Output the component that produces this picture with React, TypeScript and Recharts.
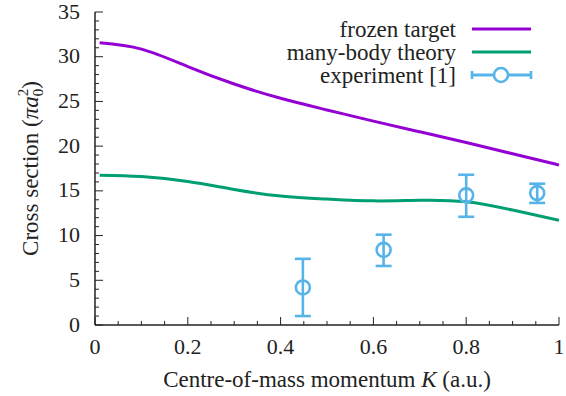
import { ComposedChart, Line, Scatter, ErrorBar, XAxis, YAxis, Label } from 'recharts';

// theory curves, sampled along K
const K = [0.01, 0.1, 0.2, 0.3, 0.4, 0.5, 0.6, 0.7, 0.8, 0.9, 1.0];
const frozenTarget = [31.55, 30.85, 28.9, 26.95, 25.35, 24.05, 22.8, 21.6, 20.4, 19.15, 17.9];
const manyBody = [16.75, 16.6, 16.05, 15.15, 14.42, 14.08, 13.88, 13.95, 13.78, 12.85, 11.7];

// experiment [1]
const expK = [0.448, 0.622, 0.8, 0.953];
const expValue = [4.2, 8.4, 14.5, 14.75];
const expLow = [1.0, 6.6, 12.1, 13.65];
const expHigh = [7.4, 10.1, 16.8, 15.8];

const xMajor = [0, 0.2, 0.4, 0.6, 0.8, 1];
const xLabels = ['0', '0.2', '0.4', '0.6', '0.8', '1'];
const yMajor = [0, 5, 10, 15, 20, 25, 30, 35];

const xTicks: number[] = [];
for (let i = 0; i <= 20; i++) xTicks.push(Math.round(i * 5) / 100);
const yTicks: number[] = [];
for (let i = 0; i <= 35; i++) yTicks.push(i);

const curves = K.map((k, i) => ({ k, frozen: frozenTarget[i], many: manyBody[i] }));
const points = expK.map((k, i) => ({
    k,
    v: expValue[i],
    err: [expValue[i] - expLow[i], expHigh[i] - expValue[i]],
}));

const INK = '#222';
const FONT = 'Liberation Serif';
const PURPLE = '#9400D3';
const GREEN = '#009E73';
const BLUE = '#56B4E9';

const isMajorX = (v: number) => xMajor.some((m) => Math.abs(m - v) < 1e-6);
const isMajorY = (v: number) => yMajor.includes(v);

const BottomTick = ({ x, y, payload }: any) => {
    const major = isMajorX(payload.value);
    const idx = xMajor.findIndex((m) => Math.abs(m - payload.value) < 1e-6);
    return (
        <g>
            <line x1={x} x2={x} y1={y} y2={y - (major ? 8 : 4)} stroke={INK} strokeWidth={1} />
            {major && (
                <text x={x} y={y + 29} textAnchor="middle" fontSize={22} fontFamily={FONT} fill={INK}>
                    {xLabels[idx]}
                </text>
            )}
        </g>
    );
};

const TopTick = ({ x, y, payload }: any) => {
    const major = isMajorX(payload.value);
    return <line x1={x} x2={x} y1={y} y2={y + (major ? 8 : 4)} stroke={INK} strokeWidth={1} />;
};

const LeftTick = ({ x, y, payload }: any) => {
    const major = isMajorY(payload.value);
    return (
        <g>
            <line x1={x} x2={x + (major ? 8 : 4)} y1={y} y2={y} stroke={INK} strokeWidth={1} />
            {major && (
                <text x={x - 15} y={y} dy="0.3em" textAnchor="end" fontSize={22} fontFamily={FONT} fill={INK}>
                    {payload.value}
                </text>
            )}
        </g>
    );
};

const RightTick = ({ x, y, payload }: any) => {
    const major = isMajorY(payload.value);
    return <line x1={x} x2={x - (major ? 8 : 4)} y1={y} y2={y} stroke={INK} strokeWidth={1} />;
};

const XTitle = ({ viewBox }: any) => {
    const cx = viewBox.x + viewBox.width / 2;
    return (
        <text x={cx} y={viewBox.y + 62} textAnchor="middle" fontSize={23} fontFamily={FONT} fill={INK}>
            Centre-of-mass momentum <tspan fontStyle="italic">K</tspan> (a.u.)
        </text>
    );
};

const YTitle = ({ viewBox }: any) => {
    const cx = viewBox.x + 37.5;
    const cy = viewBox.y + viewBox.height / 2;
    return (
        <text
            x={cx}
            y={cy}
            transform={`rotate(-90 ${cx} ${cy})`}
            textAnchor="middle"
            fontSize={23}
            fontFamily={FONT}
            fill={INK}
        >
            Cross section (<tspan fontStyle="italic">πa</tspan>
            <tspan fontSize={15} dy={5}>0</tspan>
            <tspan fontSize={15} dx={-7.5} dy={-15}>2</tspan>
            <tspan dy={10}>)</tspan>
        </text>
    );
};

const Dot = ({ cx, cy }: any) => (
    <circle cx={cx} cy={cy} r={7} fill="none" stroke={BLUE} strokeWidth={2.6} />
);

const ChartLegend = () => {
    const rows = [
        { label: 'frozen target', color: PURPLE, y: 29 },
        { label: 'many-body theory', color: GREEN, y: 52 },
        { label: 'experiment [1]', color: BLUE, y: 75 },
    ];
    return (
        <svg width={566} height={100} style={{ position: 'absolute', left: 0, top: 0 }}>
            {rows.map((r, i) => (
                <g key={r.label}>
                    <text x={456} y={r.y} dy="0.33em" textAnchor="end" fontSize={23} fontFamily={FONT} fill={INK}>
                        {r.label}
                    </text>
                    <line x1={472} x2={531} y1={r.y} y2={r.y} stroke={r.color} strokeWidth={3} />
                    {i === 2 && (
                        <g>
                            <line x1={472} x2={472} y1={r.y - 4} y2={r.y + 4} stroke={BLUE} strokeWidth={2.6} />
                            <line x1={531} x2={531} y1={r.y - 4} y2={r.y + 4} stroke={BLUE} strokeWidth={2.6} />
                            <circle cx={501} cy={r.y} r={7} fill="white" stroke={BLUE} strokeWidth={2.6} />
                        </g>
                    )}
                </g>
            ))}
        </svg>
    );
};

export default function App() {
    return (
        <div style={{ position: 'absolute', left: 0, top: 0, width: 566, height: 396, background: '#fff' }}>
            <ComposedChart width={566} height={396} margin={{ top: 12, right: 7, bottom: 0, left: 0 }}>
                <XAxis
                    xAxisId={0}
                    type="number"
                    dataKey="k"
                    domain={[0, 1]}
                    ticks={xTicks}
                    interval={0}
                    height={71}
                    tickSize={0}
                    tickMargin={0}
                    tickLine={false}
                    tick={<BottomTick />}
                    axisLine={{ stroke: INK, strokeWidth: 1.5 }}
                    allowDataOverflow
                >
                    <Label content={<XTitle />} />
                </XAxis>
                <XAxis
                    xAxisId="top"
                    orientation="top"
                    type="number"
                    dataKey="k"
                    domain={[0, 1]}
                    ticks={xTicks}
                    interval={0}
                    height={0}
                    tickSize={0}
                    tickMargin={0}
                    tickLine={false}
                    tick={<TopTick />}
                    axisLine={{ stroke: INK, strokeWidth: 1.5 }}
                    allowDataOverflow
                />
                <YAxis
                    yAxisId={0}
                    type="number"
                    domain={[0, 35]}
                    ticks={yTicks}
                    interval={0}
                    width={95}
                    tickSize={0}
                    tickMargin={0}
                    tickLine={false}
                    tick={<LeftTick />}
                    axisLine={{ stroke: INK, strokeWidth: 1.5 }}
                    allowDataOverflow
                >
                    <Label content={<YTitle />} />
                </YAxis>
                <YAxis
                    yAxisId="right"
                    orientation="right"
                    type="number"
                    domain={[0, 35]}
                    ticks={yTicks}
                    interval={0}
                    width={0}
                    tickSize={0}
                    tickMargin={0}
                    tickLine={false}
                    tick={<RightTick />}
                    axisLine={{ stroke: INK, strokeWidth: 1.5 }}
                    allowDataOverflow
                />
                <Line
                    data={curves}
                    dataKey="frozen"
                    type="natural"
                    stroke={PURPLE}
                    strokeWidth={3}
                    dot={false}
                    isAnimationActive={false}
                />
                <Line
                    data={curves}
                    dataKey="many"
                    type="natural"
                    stroke={GREEN}
                    strokeWidth={3}
                    dot={false}
                    isAnimationActive={false}
                />
                <Scatter data={points} dataKey="v" shape={<Dot />} isAnimationActive={false}>
                    <ErrorBar dataKey="err" direction="y" width={8} stroke={BLUE} strokeWidth={2.6} />
                </Scatter>
            </ComposedChart>
            <ChartLegend />
        </div>
    );
}
